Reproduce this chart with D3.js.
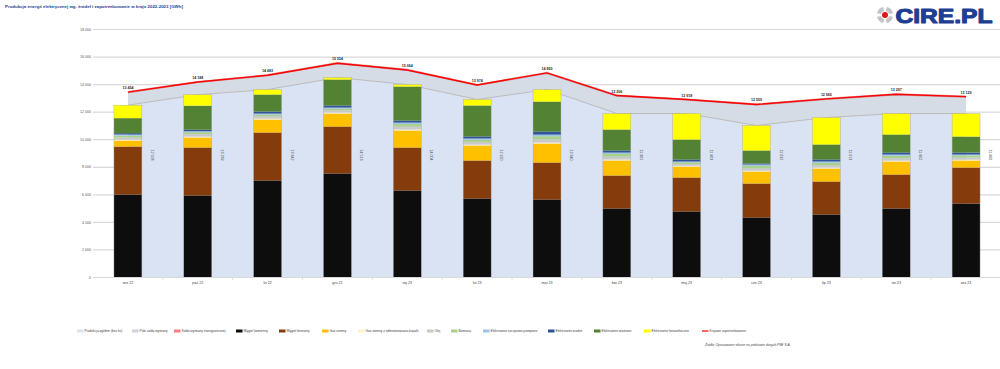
<!DOCTYPE html>
<html>
<head>
<meta charset="utf-8">
<script src="https://cdn.jsdelivr.net/npm/d3@7"></script>
<style>
  html, body { margin: 0; padding: 0; background: #fff; }
  svg { display: block; font-family: "Liberation Sans", Arial, sans-serif; }
</style>
</head>
<body>
<svg id="chart" width="1000" height="369"></svg>
<script>
// miesiące
const months = ["wrz 22", "paź 22", "lis 22", "gru 22", "sty 23", "lut 23", "mar 23",
                "kwi 23", "maj 23", "cze 23", "lip 23", "sie 23", "wrz 23"];

// produkcja wg źródeł [GWh]
const wegielKamienny   = [6023, 5951, 7039, 7547, 6313, 5733, 5660, 5007, 4790, 4354, 4572, 5007, 5370];
const wegielBrunatny   = [3483, 3483, 3483, 3411, 3120, 2758, 2685, 2395, 2467, 2467, 2395, 2467, 2612];
const gazZiemny        = [435, 726, 943, 943, 1234, 1089, 1379, 1089, 798, 871, 943, 943, 508];
const gazOdmetanowanie = [60, 70, 70, 70, 80, 70, 80, 80, 60, 70, 70, 70, 60];
const olej             = [150, 180, 160, 160, 200, 190, 230, 200, 120, 170, 170, 170, 150];
const biomasa          = [150, 140, 130, 130, 190, 160, 220, 200, 130, 180, 180, 180, 160];
const szczytowoPomp    = [75, 70, 75, 75, 110, 90, 120, 100, 55, 90, 90, 90, 65];
const wodne            = [100, 109, 145, 145, 145, 145, 218, 145, 145, 73, 145, 145, 145];
const wiatrowe         = [1089, 1742, 1234, 1887, 2467, 2250, 2177, 1524, 1451, 943, 1089, 1306, 1161];
const fotowoltaika     = [943, 798, 363, 145, 145, 435, 871, 1161, 1887, 1814, 1959, 1524, 1669];

// krajowe zapotrzebowanie [GWh]
const zapotrzebowanie  = [13454, 14188, 14683, 15554, 15064, 13974, 14850, 13206, 12918, 12559, 12965, 13297, 13129];

const yTicks = [0, 2000, 4000, 6000, 8000, 10000, 12000, 14000, 16000, 18000];

const series = [
    {key: "wk", name: "Węgiel kamienny", color: "#0d0d0d", values: wegielKamienny},
    {key: "wb", name: "Węgiel brunatny", color: "#843c0c", values: wegielBrunatny},
    {key: "gz", name: "Gaz ziemny", color: "#ffc000", values: gazZiemny},
    {key: "go", name: "Gaz ziemny z odmetanowania kopalń", color: "#fff2cc", values: gazOdmetanowanie},
    {key: "ol", name: "Olej", color: "#c9c9c9", values: olej},
    {key: "bi", name: "Biomasa", color: "#a9d18e", values: biomasa},
    {key: "sp", name: "Elektrownie szczytowo-pompowe", color: "#9dc3e6", values: szczytowoPomp},
    {key: "wo", name: "Elektrownie wodne", color: "#2f5597", values: wodne},
    {key: "wi", name: "Elektrownie wiatrowe", color: "#548235", values: wiatrowe},
    {key: "pv", name: "Elektrownie fotowoltaiczne", color: "#ffff00", values: fotowoltaika}
];

const rows = months.map((m, i) => {
    const r = {month: m};
    series.forEach(s => r[s.key] = s.values[i]);
    return r;
});
const total = rows.map(r => d3.sum(series, s => r[s.key]));

const svg = d3.select("#chart");
const fmt = v => d3.format(",")(v).replace(/,/g, " ");

// Scales
const x = d3.scaleBand().domain(months).range([93, 1001]).paddingInner(0).paddingOuter(0);
const cx = m => x(m) + x.bandwidth() / 2;
const y = d3.scaleLinear().domain([0, 18000]).range([277.5, 29.5]);
const barW = x.bandwidth() * 0.4;

// Title
svg.append("text")
    .attr("x", 5).attr("y", 7.5)
    .attr("font-size", 4.4).attr("font-weight", "bold").attr("fill", "#1f3f8f")
    .text("Produkcja energii elektrycznej wg. źródeł i zapotrzebowanie w kraju 2022-2023 [GWh]");

// Gridlines + y axis labels
const grid = svg.append("g");
grid.selectAll("line").data(yTicks).join("line")
    .attr("x1", 93).attr("x2", 1000)
    .attr("y1", d => y(d)).attr("y2", d => y(d))
    .attr("stroke", "#d9d9d9").attr("stroke-width", 1.2);
grid.selectAll("text").data(yTicks).join("text")
    .attr("x", 91).attr("y", d => y(d) + 1.2)
    .attr("text-anchor", "end").attr("font-size", 3.6).attr("fill", "#595959")
    .text(d => fmt(d));

// Logo
const logoBg = svg.append("rect").attr("x", 872).attr("y", 3).attr("width", 125).attr("height", 24).attr("fill", "#fff");
const logo = svg.append("g").attr("transform", "translate(885,15)");
const arc = d3.arc().innerRadius(4.2).outerRadius(8.2);
[0, 1, 2, 3].forEach(k => {
    logo.append("path")
        .attr("d", arc({startAngle: k * Math.PI / 2 + 0.22, endAngle: (k + 1) * Math.PI / 2 - 0.22}))
        .attr("fill", "#c4c4c4");
});
logo.append("circle").attr("r", 3).attr("fill", "#e3141c");
svg.append("text")
    .attr("x", 895.5).attr("y", 22.5)
    .attr("font-size", 20.5).attr("font-weight", "bold").attr("fill", "#1c3f94")
    .attr("stroke", "#1c3f94").attr("stroke-width", 1.1).attr("stroke-linejoin", "round")
    .attr("textLength", 97).attr("lengthAdjust", "spacingAndGlyphs")
    .text("CIRE.PL");

// Demand area (grey)
const areaDemand = d3.area()
    .x((d, i) => cx(months[i])).y0(y(0)).y1(d => y(d));
svg.append("path")
    .datum(zapotrzebowanie)
    .attr("d", areaDemand)
    .attr("fill", "#d6dce5");

// Production area (light blue)
svg.append("path")
    .datum(total)
    .attr("d", areaDemand)
    .attr("fill", "#dae3f3");
svg.append("path")
    .datum(total)
    .attr("d", d3.line().x((d, i) => cx(months[i])).y(d => y(d)))
    .attr("fill", "none").attr("stroke", "#bcbcbc").attr("stroke-width", 1);

// Stacked bars
const stack = d3.stack().keys(series.map(s => s.key))(rows);
const color = d3.scaleOrdinal().domain(series.map(s => s.key)).range(series.map(s => s.color));
svg.append("g").selectAll("g").data(stack).join("g")
    .attr("fill", d => color(d.key))
    .selectAll("rect").data(d => d).join("rect")
    .attr("x", d => cx(d.data.month) - barW / 2)
    .attr("width", barW)
    .attr("y", d => y(d[1]))
    .attr("height", d => Math.max(0, y(d[0]) - y(d[1])));

// thin outline around bars
svg.append("g").selectAll("rect").data(rows).join("rect")
    .attr("x", (d, i) => cx(d.month) - barW / 2)
    .attr("width", barW)
    .attr("y", (d, i) => y(total[i]))
    .attr("height", (d, i) => y(0) - y(total[i]))
    .attr("fill", "none").attr("stroke", "#a6a6a6").attr("stroke-width", 0.4);

// Production total labels (rotated)
svg.append("g").selectAll("text").data(total).join("text")
    .attr("transform", (d, i) => `translate(${cx(months[i]) + 23},155) rotate(90)`)
    .attr("text-anchor", "middle").attr("font-size", 3.6).attr("fill", "#404040")
    .text(d => fmt(d));

// x axis
const xa = svg.append("g");
xa.append("line").attr("x1", 93).attr("x2", 1000).attr("y1", y(0)).attr("y2", y(0))
    .attr("stroke", "#d9d9d9").attr("stroke-width", 1);
xa.selectAll("line.tk").data(months.slice(0, -1)).join("line").attr("class", "tk")
    .attr("x1", d => x(d) + x.bandwidth()).attr("x2", d => x(d) + x.bandwidth())
    .attr("y1", y(0)).attr("y2", y(0) + 2.5)
    .attr("stroke", "#d9d9d9").attr("stroke-width", 0.8);
xa.selectAll("text").data(months).join("text")
    .attr("x", d => cx(d)).attr("y", 283.5)
    .attr("text-anchor", "middle").attr("font-size", 3.6).attr("fill", "#404040")
    .text(d => d);

// Demand line
svg.append("path")
    .datum(zapotrzebowanie)
    .attr("d", d3.line().x((d, i) => cx(months[i])).y(d => y(d)))
    .attr("fill", "none").attr("stroke", "#b00000").attr("stroke-width", 2.2).attr("stroke-opacity", 0.35);
svg.append("path")
    .datum(zapotrzebowanie)
    .attr("d", d3.line().x((d, i) => cx(months[i])).y(d => y(d)))
    .attr("fill", "none").attr("stroke", "#ff0000").attr("stroke-width", 1.4);
svg.append("g").selectAll("text").data(zapotrzebowanie).join("text")
    .attr("x", (d, i) => cx(months[i])).attr("y", d => y(d) - 3)
    .attr("text-anchor", "middle").attr("font-size", 3.6).attr("font-weight", "bold").attr("fill", "#262626")
    .text(d => fmt(d));

// Legend
const legendItems = [
    {name: "Produkcja ogółem (bez ks)", color: "#dae3f3", type: "rect"},
    {name: "Pole salda wymiany", color: "#d0d4da", type: "rect"},
    {name: "Saldo wymiany transgranicznej", color: "#ff7c80", type: "rect"},
    ...series.map(s => ({name: s.name, color: s.color, type: "rect"})),
    {name: "Krajowe zapotrzebowanie", color: "#ff0000", type: "line"}
];
const legendX = [77, 132, 174, 236, 279, 322, 358, 427, 451, 483, 548, 594, 644, 702];
const lg = svg.append("g").selectAll("g").data(legendItems).join("g")
    .attr("transform", (d, i) => `translate(${legendX[i]},331)`);
lg.filter(d => d.type === "rect").append("rect")
    .attr("x", 0).attr("y", -1.5).attr("width", 6.5).attr("height", 3)
    .attr("fill", d => d.color);
lg.filter(d => d.type === "line").append("line")
    .attr("x1", 0).attr("x2", 6.5).attr("y1", 0).attr("y2", 0)
    .attr("stroke", d => d.color).attr("stroke-width", 1.2);
lg.append("text")
    .attr("x", 7.5).attr("y", 1.2)
    .attr("font-size", 3.2).attr("fill", "#404040")
    .text(d => d.name);

// Source
svg.append("text")
    .attr("x", 705).attr("y", 346)
    .attr("font-size", 3.2).attr("font-style", "italic").attr("fill", "#404040")
    .text("Źródło: Opracowanie własne na podstawie danych PSE S.A.");
</script>
</body>
</html>
